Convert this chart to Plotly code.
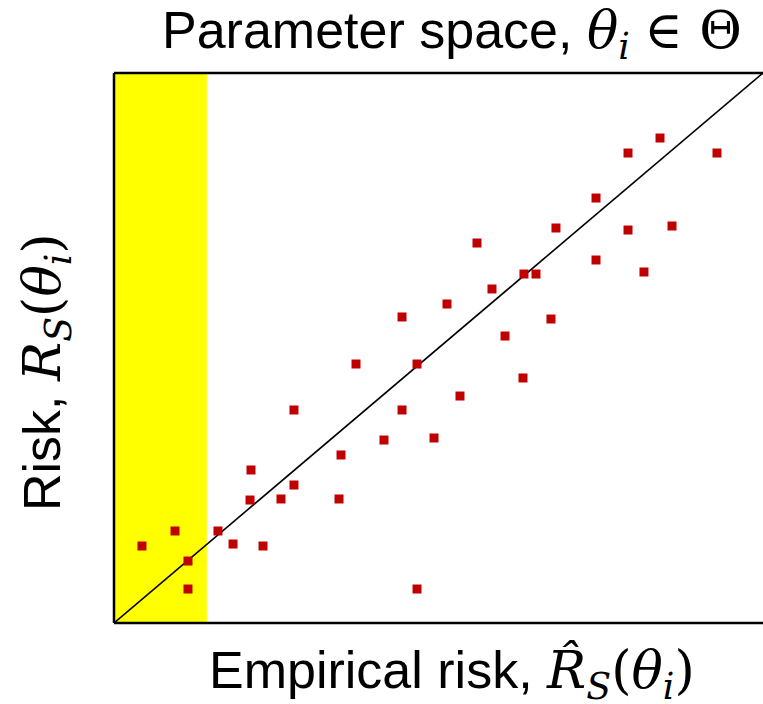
import plotly.graph_objects as go

# Empirical risk (x) and true risk (y) of each parameter, in percent of the axis span
emp_risk = [4.31, 9.40, 11.40, 11.40, 16.02, 18.34, 22.96, 20.96, 25.73, 27.73,
            34.67, 46.69, 21.11, 27.73, 34.98, 37.29, 41.60, 44.38, 44.38, 46.69,
            49.31, 51.31, 53.31, 55.93, 58.24, 60.25, 63.02, 63.17, 65.02, 67.33,
            68.10, 74.27, 74.27, 79.20, 79.20, 81.66, 84.13, 85.98, 92.91]
risk = [14.00, 16.73, 11.27, 6.18, 16.73, 14.36, 14.00, 22.36, 22.55, 25.09,
        22.55, 6.18, 27.82, 38.73, 30.55, 47.09, 33.27, 55.64, 38.73, 47.09,
        33.64, 58.00, 41.27, 69.09, 60.73, 52.18, 44.55, 63.45, 63.45, 55.27,
        71.82, 77.27, 66.00, 85.45, 71.45, 63.82, 88.18, 72.18, 85.45]
band_edge = 14.3          # right edge of the highlighted (yellow) region
diag = [0, 100]           # identity line R = R_hat

W, H = 763, 704
L, R, T, B = 114, 0, 73, 81
pw, ph = W - L - R, H - T - B

def px_x(p):
    return (p - L) / pw

def px_y(p):
    return (H - B - p) / ph

SERIF = "DejaVu Serif"
def m(s):
    return f'<span style="font-family:{SERIF}">{s}</span>'

theta_i = m("<i>θ</i><sub><i>i</i></sub>")
FS = 52

fig = go.Figure()
fig.add_trace(go.Scatter(x=diag, y=diag, mode="lines",
                         line=dict(color="black", width=1.6),
                         hoverinfo="skip", showlegend=False))
fig.add_trace(go.Scatter(x=emp_risk, y=risk, mode="markers",
                         marker=dict(symbol="square", size=9, color="#c00000",
                                     line=dict(width=0)),
                         showlegend=False))

fig.add_shape(type="rect", xref="x", yref="y", x0=0, x1=band_edge, y0=0, y1=100,
              fillcolor="#ffff00", line=dict(width=0), layer="below")

for x0, y0, x1, y1 in [(0, 1, 1, 1), (0, 0, 1, 0), (0, 0, 0, 1)]:
    fig.add_shape(type="line", xref="paper", yref="paper", x0=x0, y0=y0, x1=x1, y1=y1,
                  line=dict(color="black", width=2.5))

fig.add_annotation(xref="paper", yref="paper", x=px_x(452), y=px_y(34),
                   xanchor="center", yanchor="middle", showarrow=False,
                   text="Parameter space, " + theta_i + " " + m("∈ Θ"),
                   font=dict(size=FS, color="black", family="Liberation Sans"))
fig.add_annotation(xref="paper", yref="paper", x=px_x(452), y=px_y(674),
                   xanchor="center", yanchor="middle", showarrow=False,
                   text="Empirical risk, " + m("<i>R̂</i><sub><i>S</i></sub>(") + theta_i + m(")"),
                   font=dict(size=FS, color="black", family="Liberation Sans"))
fig.add_annotation(xref="paper", yref="paper", x=px_x(46), y=px_y(372),
                   xanchor="center", yanchor="middle", showarrow=False, textangle=-90,
                   text="Risk, " + m("<i>R</i><sub><i>S</i></sub>(") + theta_i + m(")"),
                   font=dict(size=FS, color="black", family="Liberation Sans"))

fig.update_xaxes(range=[0, 100], visible=False, fixedrange=True)
fig.update_yaxes(range=[0, 100], visible=False, fixedrange=True)
fig.update_layout(width=W, height=H, margin=dict(l=L, r=R, t=T, b=B),
                  plot_bgcolor="white", paper_bgcolor="white")

fig.write_html("out.html", config={"displayModeBar": False})
